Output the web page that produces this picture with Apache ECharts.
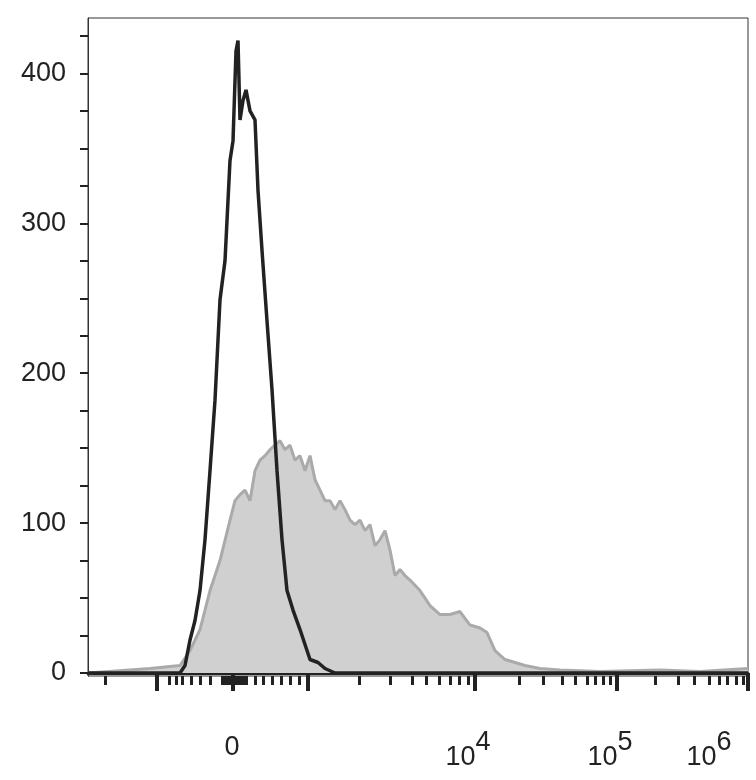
<!DOCTYPE html>
<html>
<head>
<meta charset="utf-8">
<script src="https://cdn.jsdelivr.net/npm/echarts@6/dist/echarts.min.js"></script>
<style>html,body{margin:0;padding:0;background:#fff}#main{width:756px;height:780px}</style>
</head>
<body>
<div id="main"></div>
<script>
// x in display channel units (0..660), y in counts
var blackX = [0, 92, 97, 102, 107, 112, 117, 122, 127, 132, 137, 142, 145, 148, 150, 152, 155, 158, 162, 167, 170, 174, 179, 184, 189, 194, 199, 205, 212, 217, 222, 230, 237, 247, 660];
var blackY = [0, 0, 5, 22, 35, 55, 89, 135, 182, 249, 275, 342, 355, 415, 422, 369, 382, 389, 375, 369, 322, 282, 235, 189, 135, 89, 55, 42, 29, 19, 9, 7, 3, 0, 0];
var greyX = [0, 62, 92, 102, 112, 122, 132, 142, 147, 152, 157, 162, 167, 172, 177, 182, 187, 192, 197, 202, 207, 212, 217, 222, 227, 232, 237, 242, 247, 252, 257, 262, 267, 272, 277, 282, 287, 292, 297, 302, 307, 312, 317, 322, 332, 342, 352, 362, 372, 382, 392, 399, 407, 417, 427, 437, 452, 472, 512, 572, 612, 660];
var greyY = [0, 3, 5, 15, 29, 55, 75, 102, 115, 119, 122, 115, 135, 142, 145, 149, 152, 155, 149, 152, 142, 145, 135, 145, 129, 122, 115, 115, 109, 115, 109, 102, 99, 102, 95, 99, 85, 89, 95, 82, 65, 69, 65, 62, 55, 45, 39, 39, 41, 32, 30, 27, 15, 9, 7, 5, 3, 2, 1, 2, 1, 3];
var majorTicks = [69, 145, 220, 387, 529, 660];
var minorTicks = [17, 81, 88, 94, 103, 112, 122, 134, 137, 140, 143, 147, 150, 153, 156, 158, 167, 175, 184, 193, 202, 211, 271, 302, 324, 338, 351, 362, 371, 380, 431, 455, 474, 487, 499, 507, 515, 522, 567, 590, 606, 621, 631, 639, 648, 655];
var xLabels = { 145: '{b|0}{z| }', 387: '{b|10}{s|4}', 529: '{b|10}{s|5}', 660: '{b|10}{e|6}' };
var yLabels = [0, 100, 200, 300, 400];
var yTicks = [0, 25, 50, 75, 100, 125, 150, 175, 200, 225, 250, 275, 300, 325, 350, 375, 400, 425];

function pairs(xs, ys) { return xs.map(function (x, i) { return [x, ys[i]]; }); }

var chart = echarts.init(document.getElementById('main'));
var font = 'Liberation Sans';
chart.setOption({
    animation: false,
    grid: { left: 88, right: 8, top: 18, bottom: 104, outerBoundsMode: 'none', containLabel: false, show: true, borderColor: '#333', borderWidth: 1 },
    xAxis: [
        {
            type: 'value', min: 0, max: 660,
            axisLine: { show: true, lineStyle: { color: '#222', width: 3 } },
            splitLine: { show: false },
            axisTick: { show: true, customValues: majorTicks, length: 18, lineStyle: { color: '#222', width: 4 } },
            axisLabel: {
                customValues: [145, 387, 529, 660], margin: 53, color: '#222', fontFamily: font, fontSize: 27,
                hideOverlap: false, showMaxLabel: true,
                formatter: function (v) { return xLabels[v]; },
                rich: {
                    b: { fontSize: 27, fontFamily: font, color: '#222' },
                    z: { fontSize: 8, fontFamily: font, verticalAlign: 'bottom', padding: [0, 0, 30, 0] },
                    s: { fontSize: 27, fontFamily: font, color: '#222', verticalAlign: 'bottom', padding: [0, 14, 30, 0] },
                    e: { fontSize: 27, fontFamily: font, color: '#222', verticalAlign: 'bottom', padding: [0, 78, 30, 0] }
                }
            }
        },
        {
            type: 'value', min: 0, max: 660, position: 'bottom',
            axisLine: { show: false }, splitLine: { show: false },
            axisTick: { show: true, customValues: minorTicks, length: 9, lineStyle: { color: '#222', width: 3 } },
            axisLabel: { show: false }
        }
    ],
    yAxis: {
        type: 'value', min: -2, max: 437,
        axisLine: { show: true, lineStyle: { color: '#333', width: 1 } },
        splitLine: { show: false },
        axisTick: { show: true, customValues: yTicks, length: 8, lineStyle: { color: '#222', width: 2 } },
        axisLabel: { customValues: yLabels, margin: 22, color: '#222', fontFamily: font, fontSize: 27 }
    },
    series: [
        {
            type: 'line', data: pairs(greyX, greyY), symbol: 'none', z: 2,
            lineStyle: { color: '#aaa', width: 3 },
            areaStyle: { color: '#d0d0d0', opacity: 1, origin: 0 }
        },
        {
            type: 'line', data: pairs(blackX, blackY), symbol: 'none', z: 3,
            lineStyle: { color: '#222', width: 3.5 }
        }
    ]
});
</script>
</body>
</html>
